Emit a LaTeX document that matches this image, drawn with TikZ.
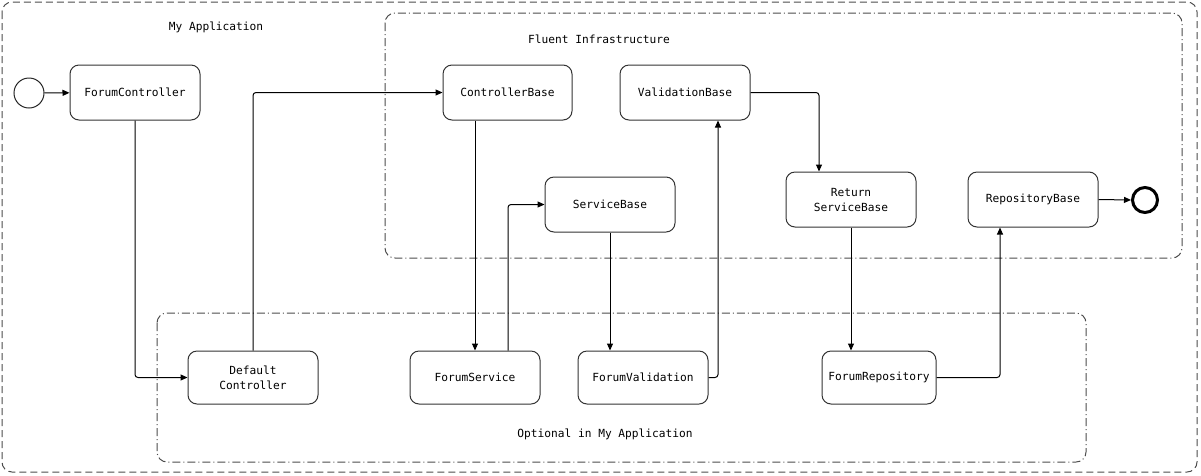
\documentclass[tikz,border=0pt]{standalone}
\usepackage{fontspec}
\setmonofont{DejaVu Sans Mono}
\usetikzlibrary{arrows.meta}
\begin{document}
\begin{tikzpicture}[x=1pt,y=-1pt,
  txt/.style={font=\ttfamily\fontsize{11.2}{15}\selectfont, text=black},
  box/.style={txt, draw=black!80, line width=1pt, rounded corners=9pt, minimum width=130pt, minimum height=55pt, align=center, inner sep=2pt},
  outerbox/.style={draw=black!70, line width=1pt, rounded corners=10pt, dash pattern=on 7pt off 4pt},
  innerbox/.style={draw=black!70, line width=1pt, rounded corners=10pt, dash pattern=on 8pt off 3pt on 1pt off 3pt},
  conn/.style={draw=black, line width=1pt, rounded corners=3pt, -{Triangle[length=7pt,width=6pt]}},
  lbl/.style={txt, inner sep=0pt}
]
\useasboundingbox (0,0) rectangle (1201,475);
% containers
\draw[outerbox] (2,2) rectangle (1197,472);
\draw[innerbox] (385,13) rectangle (1182,258);
\draw[innerbox] (157,313) rectangle (1086,462);
\node[lbl] (lapp) at (216,27) {My Application};
\node[lbl] (lfluent) at (599,39) {Fluent Infrastructure};
\node[lbl] (lopt) at (605,434) {Optional in My Application};
% events
\node[circle, draw=black!85, line width=1pt, minimum size=30pt, inner sep=0pt] (start) at (29,93) {};
\node[circle, draw=black, line width=3pt, minimum size=25pt, inner sep=0pt] (end) at (1145,200) {};
% nodes
\node[box] (fc) at (135,92.5) {ForumController};
\node[box, minimum width=129pt] (cb) at (507.5,92.5) {ControllerBase};
\node[box] (vb) at (685,92.5) {ValidationBase};
\node[box] (sb) at (610,204.5) {ServiceBase};
\node[box] (rsb) at (851,199.5) {Return\\ServiceBase};
\node[box] (rb) at (1033,199.5) {RepositoryBase};
\node[box, minimum height=53pt] (dc) at (253,377.5) {Default\\Controller};
\node[box, minimum height=53pt] (fs) at (475,377.5) {ForumService};
\node[box, minimum height=53pt] (fv) at (643,377.5) {ForumValidation};
\node[box, minimum width=114pt, minimum height=53pt] (fr) at (879,377.5) {ForumRepository};
% connectors
\draw[conn] (start) -- (fc);
\draw[conn] (fc.south) |- (dc.west);
\draw[conn] (dc.north) |- (cb.west);
\draw[conn] (cb.south -| fs.north) -- (fs.north);
\draw[conn] ([xshift=33pt]fs.north) |- (sb.west);
\draw[conn] (sb.south) -- (sb.south |- fv.north);
\draw[conn] (fv.east) -| ([xshift=33pt]vb.south);
\draw[conn] (vb.east) -| ([xshift=-32pt]rsb.north);
\draw[conn] (rsb.south) -- (rsb.south |- fr.north);
\draw[conn] (fr.east) -| ([xshift=-33pt]rb.south);
\draw[conn] (rb.east) -- (end.west);
\end{tikzpicture}
\end{document}
